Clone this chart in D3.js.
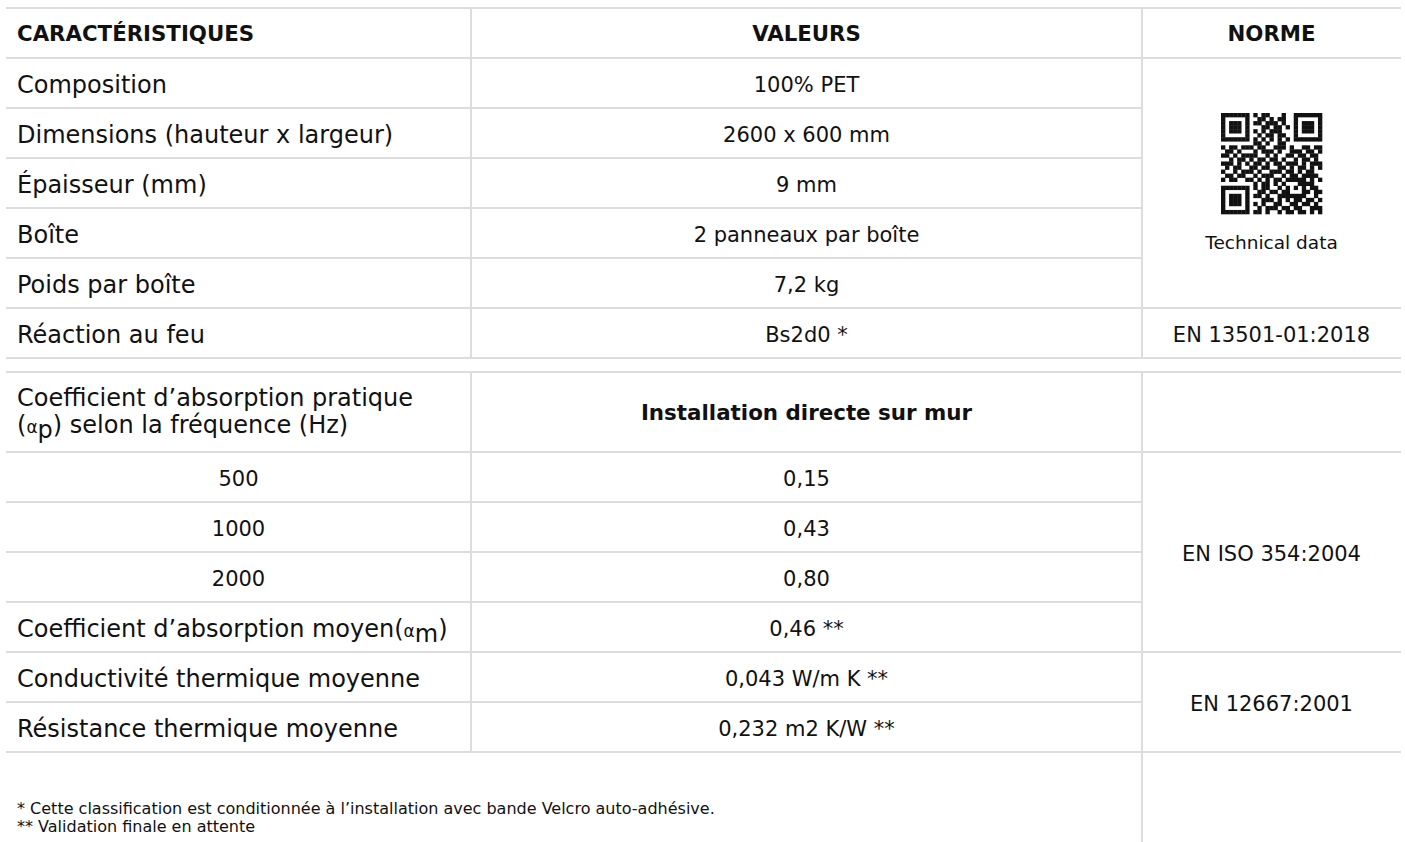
<!DOCTYPE html>
<html>
<head>
<meta charset="utf-8">
<script src="https://cdn.jsdelivr.net/npm/d3@7"></script>
<style>
  html, body { margin: 0; padding: 0; background: #fff; }
  svg { display: block; }
  text { font-family: "DejaVu Sans", sans-serif; fill: #111; }
</style>
</head>
<body>
<svg id="chart" width="1405" height="842"></svg>
<script>
// ---------- data ----------
const headers = ["CARACTÉRISTIQUES", "VALEURS", "NORME"];
const table1Labels = ["Composition", "Dimensions (hauteur x largeur)", "Épaisseur (mm)", "Boîte", "Poids par boîte", "Réaction au feu"];
const table1Values = ["100% PET", "2600 x 600 mm", "9 mm", "2 panneaux par boîte", "7,2 kg", "Bs2d0 *"];
const table1Norms = [{ text: "Technical data", qr: true, start: 0, span: 5 }, { text: "EN 13501-01:2018", start: 5, span: 1 }];

const table2HeaderLeft = ["Coefficient d’absorption pratique", "selon la fréquence (Hz)"];
const table2HeaderMid = "Installation directe sur mur";
const frequencies = ["500", "1000", "2000"];
const alphaP = ["0,15", "0,43", "0,80"];
const table2Labels = ["Coefficient d’absorption moyen", "Conductivité thermique moyenne", "Résistance thermique moyenne"];
const table2Values = ["0,46 **", "0,043 W/m K **", "0,232 m2 K/W **"];
const table2Norms = [{ text: "EN ISO 354:2004", start: 0, span: 4 }, { text: "EN 12667:2001", start: 4, span: 2 }];

const footnotes = ["* Cette classification est conditionnée à l’installation avec bande Velcro auto-adhésive.", "** Validation finale en attente"];

// QR code modules (25 x 25), 1 = dark
const qrRows = [
  "1111111010110001001111111",
  "1000001001101011001000001",
  "1011101011011101001011101",
  "1011101000110110101011101",
  "1011101010101110001011101",
  "1000001001011011001000001",
  "1111111010101010101111111",
  "0000000011010011000000000",
  "1011011101100111010011011",
  "0110100010111010011101101",
  "1101011110010100110110110",
  "0010110101101101001011010",
  "1110101011010110111010111",
  "0101100110110011010110101",
  "1001011101001110110101100",
  "0110110010111001011011110",
  "1011001101010110111110101",
  "0000000010110101000111100",
  "1111111010110010101010110",
  "1000001001101101100011011",
  "1011101011010011111110010",
  "1011101000111010101101101",
  "1011101010100110011011010",
  "1000001001011101101100111",
  "1111111011010010110110101"
];

// ---------- layout ----------
const svg = d3.select("#chart");
const X0 = 6, C1 = 471, C2 = 1142, X3 = 1401;
const col1Center = (X0 + C1) / 2, col2Center = (C1 + C2) / 2, col3Center = (C2 + X3) / 2;
const LINE = "#dddddd";
const DY = "0.42em";

const t1Top = 8, t1Head = 50, rowH = 50;
const t2Top = 372, t2Head = 80;
const y1 = d3.scaleLinear().domain([0, 1]).range([t1Top + t1Head, t1Top + t1Head + rowH]);
const y2 = d3.scaleLinear().domain([0, 1]).range([t2Top + t2Head, t2Top + t2Head + rowH]);

const gLines = svg.append("g");
const gText = svg.append("g");

function hline(y, x1, x2) {
  gLines.append("line").attr("x1", x1).attr("x2", x2).attr("y1", y).attr("y2", y)
    .attr("stroke", LINE).attr("stroke-width", 2);
}
function vline(x, ya, yb) {
  gLines.append("line").attr("x1", x).attr("x2", x).attr("y1", ya).attr("y2", yb)
    .attr("stroke", LINE).attr("stroke-width", 2);
}

const F_BODY = 24, F_HEAD = 21.3, F_VAL = 21, F_NORM = 21;

// ---------- table 1 ----------
hline(t1Top, X0, X3);
hline(t1Top + t1Head, X0, X3);
table1Labels.forEach((d, i) => {
  const covered = table1Norms.some(n => i + 1 > n.start && i + 1 < n.start + n.span);
  hline(y1(i + 1), X0, covered ? C2 : X3);
});
const t1Bottom = y1(table1Labels.length);
vline(C1, t1Top, t1Bottom);
vline(C2, t1Top, t1Bottom);

const headX = [X0 + 11, col2Center, col3Center];
const headAnchor = ["start", "middle", "middle"];
headers.forEach((h, i) => {
  gText.append("text").attr("x", headX[i]).attr("y", t1Top + t1Head / 2).attr("dy", "0.37em")
    .attr("text-anchor", headAnchor[i]).attr("font-weight", "bold").attr("font-size", F_HEAD).text(h);
});
gText.selectAll("text.t1label").data(table1Labels).join("text").attr("class", "t1label")
  .attr("x", X0 + 11).attr("y", (d, i) => y1(i) + rowH / 2).attr("dy", DY)
  .attr("font-size", F_BODY).text(d => d);
gText.selectAll("text.t1val").data(table1Values).join("text").attr("class", "t1val")
  .attr("x", col2Center).attr("y", (d, i) => y1(i) + rowH / 2).attr("dy", DY)
  .attr("text-anchor", "middle").attr("font-size", F_VAL).text(d => d);

table1Norms.forEach(n => {
  const top = y1(n.start), bot = y1(n.start + n.span);
  if (n.qr) {
    const size = 101;
    const cx = col3Center, qTop = 113;
    const qx = d3.scaleBand().domain(d3.range(25)).range([cx - size / 2, cx + size / 2]);
    const qy = d3.scaleBand().domain(d3.range(25)).range([qTop, qTop + size]);
    const cells = [];
    qrRows.forEach((row, r) => row.split("").forEach((c, k) => { if (c === "1") cells.push([r, k]); }));
    svg.append("g").selectAll("rect").data(cells).join("rect")
      .attr("x", d => qx(d[1])).attr("y", d => qy(d[0]))
      .attr("width", qx.bandwidth() + 0.3).attr("height", qy.bandwidth() + 0.3)
      .attr("fill", "#111");
    gText.append("text").attr("x", cx).attr("y", 242).attr("dy", "0.38em").attr("text-anchor", "middle")
      .attr("font-size", 18.5).text(n.text);
  } else {
    gText.append("text").attr("x", col3Center).attr("y", (top + bot) / 2).attr("dy", DY)
      .attr("text-anchor", "middle").attr("font-size", F_NORM).text(n.text);
  }
});

// ---------- table 2 ----------
hline(t2Top, X0, X3);
hline(t2Top + t2Head, X0, X3);
const nRows2 = frequencies.length + table2Labels.length;
for (let i = 1; i <= nRows2; i++) {
  const covered = table2Norms.some(n => i > n.start && i < n.start + n.span);
  hline(y2(i), X0, covered ? C2 : X3);
}
const t2Bottom = y2(nRows2);
vline(C1, t2Top, t2Bottom);
vline(C2, t2Top, 842);

const h2 = gText.append("text").attr("x", X0 + 11).attr("font-size", F_BODY);
h2.append("tspan").attr("x", X0 + 11).attr("y", 406).text(table2HeaderLeft[0]);
h2.append("tspan").attr("x", X0 + 11).attr("y", 433).text("(");
h2.append("tspan").attr("font-size", 17).text("α");
h2.append("tspan").attr("dy", 5).text("p");
h2.append("tspan").attr("dy", -5).text(") " + table2HeaderLeft[1]);
gText.append("text").attr("x", col2Center).attr("y", t2Top + t2Head / 2).attr("dy", "0.38em")
  .attr("text-anchor", "middle").attr("font-weight", "bold").attr("font-size", 21.4).text(table2HeaderMid);

gText.selectAll("text.freq").data(frequencies).join("text").attr("class", "freq")
  .attr("x", col1Center).attr("y", (d, i) => y2(i) + rowH / 2).attr("dy", DY)
  .attr("text-anchor", "middle").attr("font-size", F_NORM).text(d => d);
gText.selectAll("text.ap").data(alphaP).join("text").attr("class", "ap")
  .attr("x", col2Center).attr("y", (d, i) => y2(i) + rowH / 2).attr("dy", DY)
  .attr("text-anchor", "middle").attr("font-size", F_VAL).text(d => d);

const off = frequencies.length;
table2Labels.forEach((d, i) => {
  const t = gText.append("text").attr("x", X0 + 11).attr("y", y2(off + i) + rowH / 2).attr("dy", DY)
    .attr("font-size", F_BODY);
  t.append("tspan").text(d);
  if (i === 0) {
    t.append("tspan").text("(");
    t.append("tspan").attr("font-size", 17).text("α");
    t.append("tspan").attr("dy", 5).text("m");
    t.append("tspan").attr("dy", -5).text(")");
  }
});
gText.selectAll("text.t2val").data(table2Values).join("text").attr("class", "t2val")
  .attr("x", col2Center).attr("y", (d, i) => y2(off + i) + rowH / 2).attr("dy", DY)
  .attr("text-anchor", "middle").attr("font-size", F_VAL).text(d => d);

table2Norms.forEach(n => {
  gText.append("text").attr("x", col3Center).attr("y", (y2(n.start) + y2(n.start + n.span)) / 2).attr("dy", DY)
    .attr("text-anchor", "middle").attr("font-size", F_NORM).text(n.text);
});

gText.selectAll("text.foot").data(footnotes).join("text").attr("class", "foot")
  .attr("x", X0 + 11).attr("y", (d, i) => 808 + i * 18).attr("dy", "0.36em")
  .attr("font-size", 16).text(d => d);
</script>
</body>
</html>
